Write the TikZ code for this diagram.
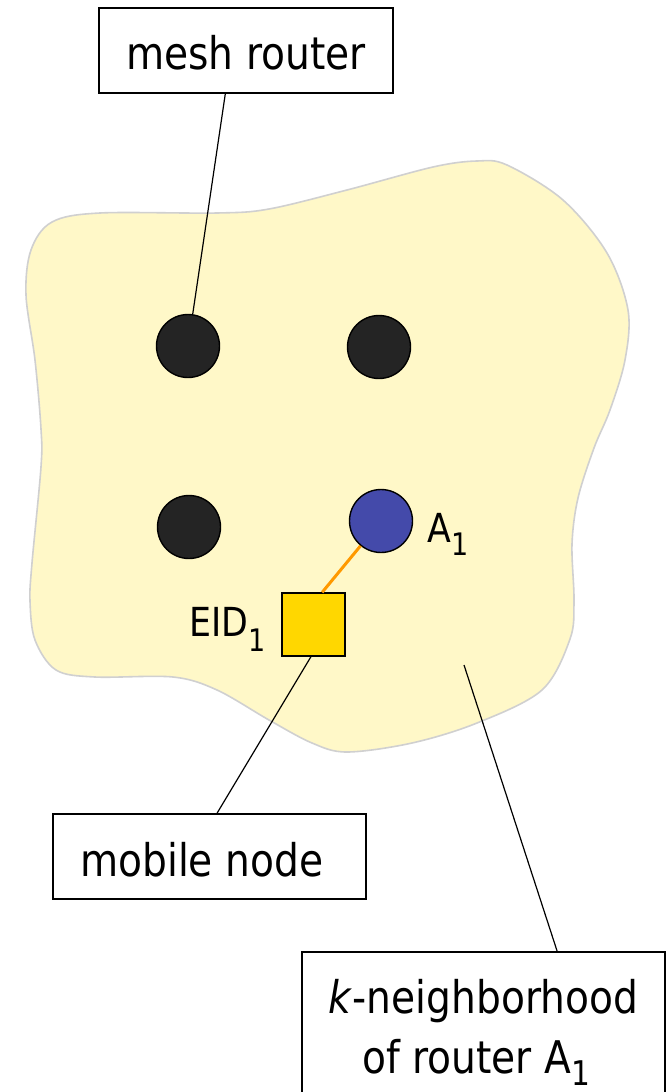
\documentclass[tikz,border=0pt]{standalone}
\usepackage{fontspec}
\setmainfont{DejaVu Sans}[FakeStretch=0.87]
\usetikzlibrary{calc}

\definecolor{areafill}{RGB}{255,248,200}
\definecolor{areaedge}{RGB}{208,208,208}
\definecolor{routerdark}{RGB}{36,36,36}
\definecolor{routerblue}{RGB}{68,74,170}
\definecolor{mobilegold}{RGB}{255,215,0}
\definecolor{linkorange}{RGB}{255,153,0}

% lowered index digit: #1 = drop, #2 = size
\newcommand{\lowidx}[3]{\raisebox{-#1}{\fontsize{#2}{#2}\selectfont #3}}

\tikzset{
  callout/.style={draw=black, line width=1.6pt, fill=white, inner sep=0pt,
                  font=\fontsize{45}{54}\selectfont, text height=37pt, text depth=0pt},
  router/.style={circle, draw=black, line width=1.4pt, fill=routerdark,
                 minimum size=63pt, inner sep=0pt},
  mobile/.style={rectangle, draw=black, line width=1.4pt, fill=mobilegold,
                 minimum size=63pt, inner sep=0pt},
  tag/.style={inner sep=0pt, font=\fontsize{40}{48}\selectfont},
  boxtext/.style={inner sep=0pt, font=\fontsize{45}{54}\selectfont},
  leader/.style={draw=black, line width=1.2pt},
}

\begin{document}
\begin{tikzpicture}[x=1pt, y=-1pt]
\clip (0,0) rectangle (671,1092);
\fill[white] (0,0) rectangle (671,1092);

% the k-neighborhood region
\draw[fill=areafill, draw=areaedge, line width=1.6pt]
  plot[smooth cycle, tension=0.55] coordinates {
    (26,295) (31,250) (52,222) (100,213) (217,213) (269,209) (347,190)
    (433,167) (477,161) (507,165) (563,200) (607,253) (628,310) (625,360)
    (610,410) (594,448) (578,498) (572,544) (574,601) (570,639) (542,690)
    (477,723) (412,743) (347,752) (312,743) (269,720) (217,690) (173,677)
    (95,677) (56,670) (35,640) (30,601) (32,563) (41,467) (41,429) (35,360)};

% routers and the mobile node
\node[router] (r1) at (188,346) {};
\node[router] (r2) at (379,347) {};
\node[router] (r3) at (189,527) {};
\node[router, fill=routerblue] (a1) at (381,521) {};
\node[mobile] (eid) at (313.5,624.5) {};

\node[tag, anchor=base west] (a1lab) at (427,542) {A\lowidx{13pt}{31}{1}};
\node[tag, anchor=base west] (eidlab) at (189,636) {EID\lowidx{15pt}{31}{1}};

% association of the mobile node with router A1
\draw[linkorange, line width=3pt] ($(eid.north west)!0.635!(eid.north east)$) -- (a1);

% callout boxes
\node[callout, minimum width=294pt, minimum height=85pt] (mesh) at (246,50.5) {mesh router};
\node[callout, minimum width=313pt, minimum height=85pt] (mob) at (209.5,856.5) {};
\node[boxtext, anchor=base west] (mobtext) at (80,876) {mobile node};
\node[callout, minimum width=363pt, minimum height=170pt] (kbox) at (483.5,1037) {};
\node[boxtext, anchor=base] (kline1) at (483.5,1013) {\textit{k}-neighborhood};
\node[boxtext, anchor=base] (kline2) at (476,1073) {of router A\lowidx{12pt}{34}{1}};

% leader lines
\coordinate (inarea) at (464,665);
\draw[leader] ($(mesh.south west)!0.43!(mesh.south east)$) -- (r1);
\draw[leader] ($(eid.south west)!0.46!(eid.south east)$) -- ($(mob.north west)!0.524!(mob.north east)$);
\draw[leader] (inarea) -- ($(kbox.north west)!0.702!(kbox.north east)$);
\end{tikzpicture}
\end{document}
